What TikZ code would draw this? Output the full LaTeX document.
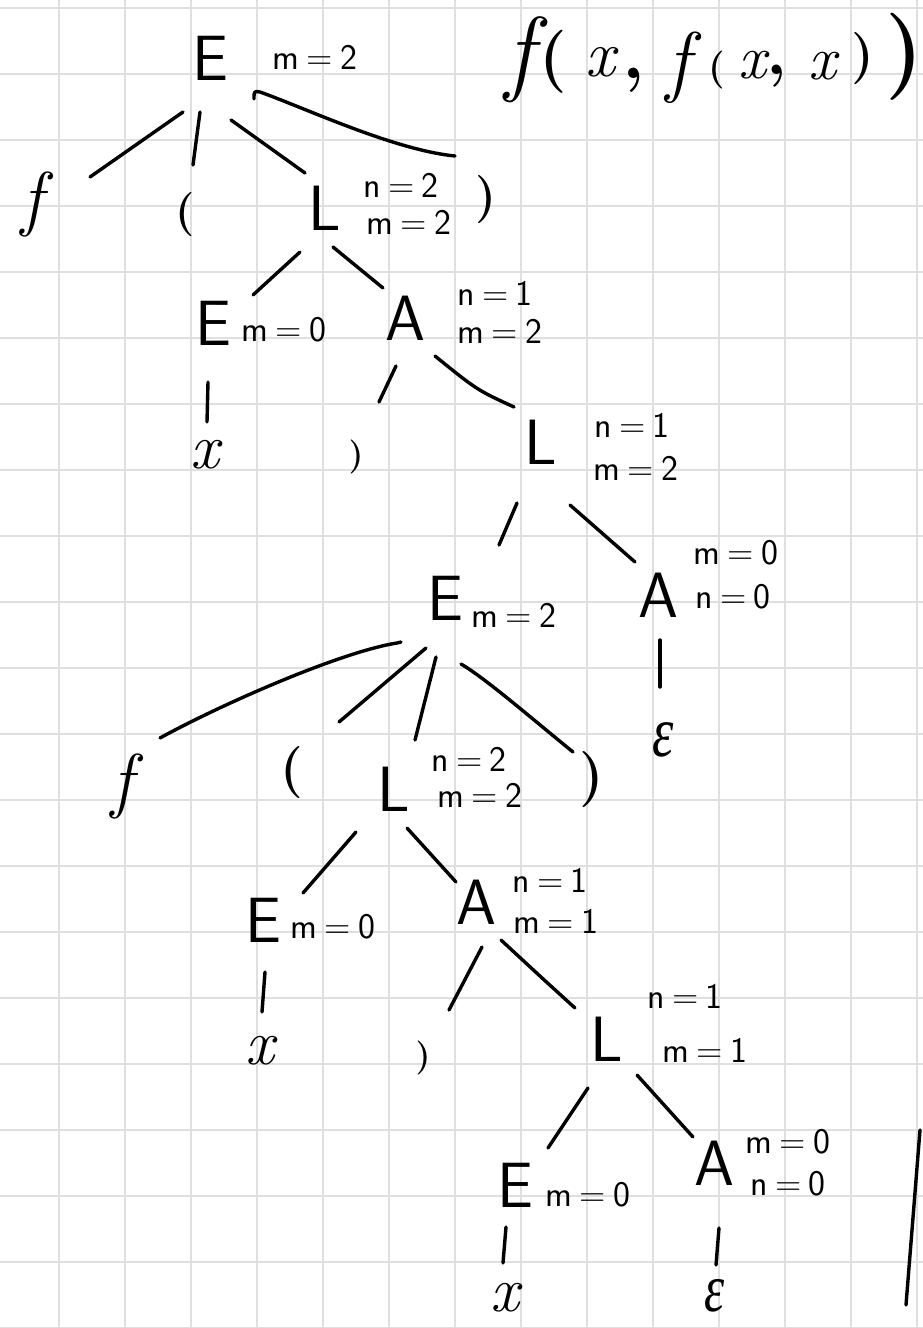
\documentclass[tikz,border=0pt]{standalone}
\usepackage{fontspec}
\usetikzlibrary{calc}

% Greek letters for the empty word
\newfontfamily\grkfont{Liberation Serif}

% "name = value" annotation used beside the tree symbols
\newcommand{\eqlab}[2]{#1\hspace{0.2em}=\hspace{0.2em}#2}
\newcommand{\epsword}{\scalebox{0.75}[1]{\grkfont\itshape ε}}

\tikzset{
  gridline/.style={draw=gray!25, line width=1.6pt},
  ink/.style={draw=black, line width=3.4pt, line cap=round, line join=round},
  sym/.style={inner sep=0pt, font=\sffamily\fontsize{64}{64}\selectfont},
  lab/.style={inner sep=0pt, font=\sffamily\fontsize{36}{36}\selectfont},
  glyph/.style={inner sep=0pt, font=\fontsize{#1}{#1}\selectfont},
  par/.style={inner sep=0pt, font=\fontsize{#1}{#1}\selectfont\bfseries},
  iglyph/.style={inner sep=0pt, font=\fontsize{#1}{#1}\selectfont\itshape},
}

\begin{document}
\begin{tikzpicture}[x=1pt, y=-1pt]
\useasboundingbox (0,0) rectangle (923,1328);
\fill[white] (0,0) rectangle (923,1328);

% squared paper
\foreach \gx in {59,125,...,917} \draw[gridline] (\gx,0) -- (\gx,1328);
\foreach \gy in {8,74,...,1328} \draw[gridline] (0,\gy) -- (923,\gy);

% the parsed word
\node[iglyph=95] (wf1) at (520,60) {f};
\node[par=63] (wp1) at (553,62) {(};
\node[iglyph=66] (wx1) at (600,62) {x};
\node[par=72] (wc1) at (634,80) {,};
\node[iglyph=79] (wf2) at (678,68) {f};
\node[par=38] (wp2) at (717,70) {(};
\node[iglyph=62] (wx2) at (752,65) {x};
\node[par=66] (wc2) at (777,76) {,};
\node[iglyph=62] (wx3) at (822,66) {x};
\node[par=52] (wq2) at (863,59) {)};
\node[par=87] (wq1) at (905,57) {)};

% ---------- tree ----------
\node[sym] (E0) at (210,58) {E};
\node[lab] (lE0) at (315,57) {\eqlab{m}{2}};

\node[iglyph=72] (f1) at (32,204) {f};
\node[par=44] (p1) at (185,215) {(};
\node[sym] (L1) at (325,208) {L};
\node[lab] (lL1a) at (401,185) {\eqlab{n}{2}};
\node[lab] (lL1b) at (409,222) {\eqlab{m}{2}};
\node[par=48] (q1) at (486,200) {)};

\node[sym] (E2) at (213,323) {E};
\node[lab] (lE2) at (284,330) {\eqlab{m}{0}};
\node[sym] (A2) at (405,318) {A};
\node[lab] (lA2a) at (495,293) {\eqlab{n}{1}};
\node[lab] (lA2b) at (500,331) {\eqlab{m}{2}};

\node[iglyph=64] (x2) at (205,455) {x};
\node[par=34] (q2) at (356,457) {)};
\node[sym] (L3) at (541,442) {L};
\node[lab] (lL3a) at (632,425) {\eqlab{n}{1}};
\node[lab] (lL3b) at (636,468) {\eqlab{m}{2}};

\node[sym] (E4) at (445,598) {E};
\node[lab] (lE4) at (514,615) {\eqlab{m}{2}};
\node[sym] (A4) at (658,595) {A};
\node[lab] (lA4a) at (736,553) {\eqlab{m}{0}};
\node[lab] (lA4b) at (733,597) {\eqlab{n}{0}};
\node[glyph=72] (e4) at (663,740) {\epsword};

\node[iglyph=72] (f5) at (122,786) {f};
\node[par=52] (p5) at (292,773) {(};
\node[sym] (L5) at (394,789) {L};
\node[lab] (lL5a) at (469,759) {\eqlab{n}{2}};
\node[lab] (lL5b) at (480,795) {\eqlab{m}{2}};
\node[par=56] (q5) at (592,780) {)};

\node[sym] (E6) at (263,920) {E};
\node[lab] (lE6) at (333,927) {\eqlab{m}{0}};
\node[sym] (A6) at (476,902) {A};
\node[lab] (lA6a) at (550,880) {\eqlab{n}{1}};
\node[lab] (lA6b) at (556,921) {\eqlab{m}{1}};

\node[iglyph=64] (x6) at (260,1051) {x};
\node[par=34] (q6) at (423,1058) {)};
\node[sym] (L7) at (607,1039) {L};
\node[lab] (lL7a) at (685,996) {\eqlab{n}{1}};
\node[lab] (lL7b) at (705,1050) {\eqlab{m}{1}};

\node[sym] (E8) at (515,1185) {E};
\node[lab] (lE8) at (588,1195) {\eqlab{m}{0}};
\node[sym] (A8) at (714,1163) {A};
\node[lab] (lA8a) at (788,1142) {\eqlab{m}{0}};
\node[lab] (lA8b) at (788,1184) {\eqlab{n}{0}};

\node[iglyph=64] (x8) at (505,1298) {x};
\node[glyph=68] (e8) at (715,1296) {\epsword};

% ---------- branches ----------
\draw[ink] ($(E0)+(-27,54)$) -- ($(f1)+(58,-27)$);
\draw[ink] ($(E0)+(-10,54)$) -- ($(p1)+(8,-50)$);
\draw[ink] ($(E0)+(21,62)$) -- ($(L1)+(-20,-35)$);
\draw[ink] ($(E0)+(44,41)$) .. controls ($(E0)+(44,33)$) .. ($(E0)+(50,34)$)
  .. controls ($(E0)+(95,50)$) and ($(q1)+(-92,-50)$) .. ($(q1)+(-31,-44)$);

\draw[ink] ($(L1)+(-25,44)$) -- ($(E2)+(40,-28)$);
\draw[ink] ($(L1)+(8,39)$) -- ($(A2)+(-22,-30)$);

\draw[ink] ($(E2)+(-5,59)$) -- ($(x2)+(2,-33)$);
\draw[ink] ($(A2)+(-9,48)$) -- ($(q2)+(23,-55)$);
\draw[ink] ($(A2)+(30,38)$) .. controls ($(A2)+(72,72)$) .. ($(L3)+(-27,-35)$);

\draw[ink] ($(L3)+(-24,61)$) -- ($(E4)+(54,-53)$);
\draw[ink] ($(L3)+(29,63)$) -- ($(A4)+(-23,-33)$);
\draw[ink] ($(A4)+(2,45)$) -- ($(e4)+(-3,-53)$);

\draw[ink] ($(E4)+(-44,44)$) -- ($(E4)+(-48,45)$)
  .. controls ($(E4)+(-105,54)$) and ($(f5)+(98,-81)$) .. ($(f5)+(38,-48)$);
\draw[ink] ($(E4)+(-19,50)$) -- ($(p5)+(47,-51)$);
\draw[ink] ($(E4)+(-9,59)$) -- ($(L5)+(21,-49)$);
\draw[ink] ($(E4)+(16,66)$) .. controls ($(E4)+(40,80)$) and ($(q5)+(-62,-63)$) .. ($(q5)+(-19,-28)$);

\draw[ink] ($(L5)+(-38,43)$) -- ($(E6)+(40,-27)$);
\draw[ink] ($(L5)+(13,39)$) -- ($(A6)+(-20,-20)$);

\draw[ink] ($(E6)+(2,52)$) -- ($(x6)+(2,-39)$);
\draw[ink] ($(A6)+(6,45)$) -- ($(q6)+(26,-48)$);
\draw[ink] ($(A6)+(25,38)$) .. controls ($(A6)+(66,76)$) .. ($(L7)+(-32,-31)$);

\draw[ink] ($(L7)+(-19,49)$) -- ($(E8)+(33,-37)$);
\draw[ink] ($(L7)+(30,36)$) -- ($(A8)+(-21,-26)$);

\draw[ink] ($(E8)+(-9,42)$) -- ($(x8)+(-2,-35)$);
\draw[ink] ($(A8)+(5,65)$) -- ($(e8)+(1,-31)$);

% long pen stroke at the right margin
\draw[ink] (920,1130) -- (906,1305);
\end{tikzpicture}
\end{document}
